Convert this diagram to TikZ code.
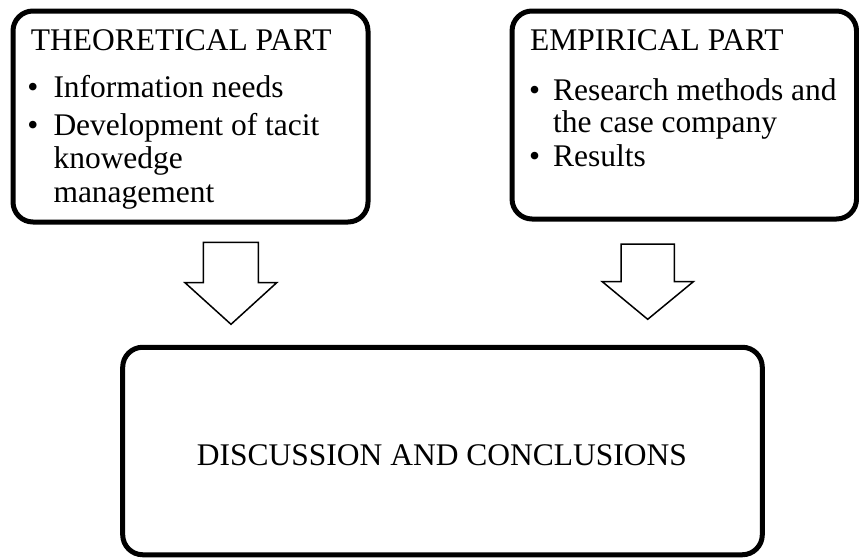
\documentclass[tikz,border=0pt]{standalone}
\usepackage{fontspec}
\setmainfont{Liberation Serif}
\begin{document}
\begin{tikzpicture}[x=1pt,y=-1pt,
  panel/.style={draw, line width=5pt, rounded corners=20pt, inner sep=0pt},
  txt/.style={inner sep=0pt, anchor=base west, font=\fontsize{31.5}{34}\selectfont},
  bul/.style={inner sep=0pt, anchor=base, font=\fontsize{31.5}{34}\selectfont},
  blockarrow/.style={draw, line width=1.5pt, fill=white, line join=miter}]
\useasboundingbox (0,0) rectangle (859,557);

% upper panels
\node[panel, minimum width=355pt, minimum height=211pt] (theory) at (190.5,116.5) {};
\node[panel, minimum width=344.5pt, minimum height=208pt] (empiric) at (684.3,115) {};
% lower panel
\node[panel, minimum width=639.6pt, minimum height=207.5pt] (final) at (442.5,451) {};

% theoretical part
\node[txt] (t0) at (30.7,50.7) {THEORETICAL PART};
\node[bul] (tb1) at (33,97) {•};
\node[txt] (t1) at (53.3,97) {Information needs};
\node[bul] (tb2) at (33,135) {•};
\node[txt] (t2) at (53.3,135) {Development of tacit};
\node[txt] (t3) at (53.3,168) {knowedge};
\node[txt] (t4) at (53.3,202) {management};

% empirical part
\node[txt] (e0) at (530,50.7) {EMPIRICAL PART};
\node[bul] (eb1) at (534.7,100) {•};
\node[txt] (e1) at (553,100) {Research methods and};
\node[txt] (e2) at (553,132) {the case company};
\node[bul] (eb2) at (534.7,166.7) {•};
\node[txt] (e3) at (553,166.7) {Results};

% conclusion text
\node[bul] (c0) at (442,465) {DISCUSSION AND CONCLUSIONS};

% block arrows
\draw[blockarrow] (203.3,242.3) -- (258.3,242.3) -- (258.3,282.7) -- (276.7,282.7)
  -- (231,324.3) -- (185,282.7) -- (203.3,282.7) -- cycle;
\draw[blockarrow] (621,244) -- (674.3,244) -- (674.3,281.7) -- (693.3,281.7)
  -- (647.7,319.3) -- (602.3,281.7) -- (621,281.7) -- cycle;
\end{tikzpicture}
\end{document}
